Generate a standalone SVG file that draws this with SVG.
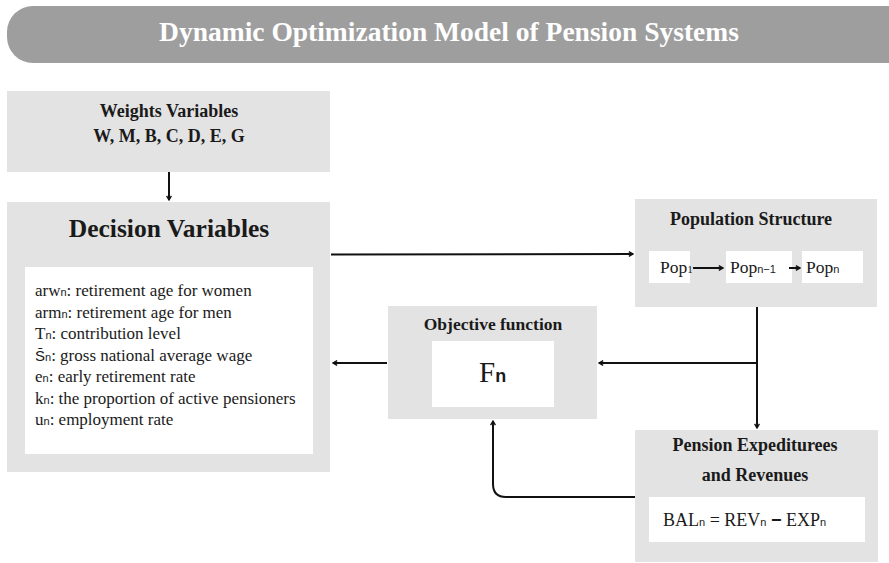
<svg xmlns="http://www.w3.org/2000/svg" width="889" height="563" viewBox="0 0 889 563">
<style>
.box{fill:#e3e3e3}
.inner{fill:#ffffff}
.hd{font-family:"Liberation Serif",serif;font-weight:bold;fill:#1a1a1a;text-anchor:middle}
.tx{font-family:"Liberation Serif",serif;fill:#1a1a1a}
.sub{font-family:"Liberation Sans",sans-serif;font-size:11px}
.ln{fill:none;stroke:#111;stroke-width:2}
</style>
<defs>
<marker id="ah" viewBox="0 0 10 10" refX="8" refY="5" markerWidth="6" markerHeight="6" markerUnits="userSpaceOnUse" orient="auto">
<path d="M1,1 L8,5 L1,9" fill="none" stroke="#111" stroke-width="2.2"/>
</marker>
</defs>
<rect width="889" height="563" fill="#ffffff"/>
<g id="title">
<rect x="7" y="6" width="907" height="57" rx="26" fill="#9e9e9e"/>
<text x="449" y="41" font-family="Liberation Serif,serif" font-weight="bold" font-size="27.5" fill="#ffffff" text-anchor="middle">Dynamic Optimization Model of Pension Systems</text>
</g>
<g id="weights">
<rect class="box" x="7" y="91" width="323" height="81"/>
<text class="hd" x="169" y="117" font-size="18">Weights Variables</text>
<text class="hd" x="169" y="142" font-size="18">W, M, B, C, D, E, G</text>
</g>
<g id="decision">
<rect class="box" x="7" y="202" width="323" height="270"/>
<text class="hd" x="169" y="237" font-size="25.5">Decision Variables</text>
<rect class="inner" x="25" y="267" width="288" height="187"/>
<g class="tx" font-size="17">
<text x="35" y="296">arw<tspan class="sub">n</tspan>: retirement age for women</text>
<text x="35" y="317.5">arm<tspan class="sub">n</tspan>: retirement age for men</text>
<text x="35" y="339">T<tspan class="sub">n</tspan>: contribution level</text>
<text x="35" y="360.5"><tspan font-family="Liberation Sans,sans-serif" font-size="15">S̄</tspan><tspan class="sub">n</tspan>: gross national average wage</text>
<text x="35" y="382">e<tspan class="sub">n</tspan>: early retirement rate</text>
<text x="35" y="403.5">k<tspan class="sub">n</tspan>: the proportion of active pensioners</text>
<text x="35" y="425">u<tspan class="sub">n</tspan>: employment rate</text>
</g>
</g>
<g id="population">
<rect class="box" x="635" y="199" width="242" height="108"/>
<text class="hd" x="751" y="225" font-size="18">Population Structure</text>
<rect class="inner" x="649" y="251" width="41" height="32"/>
<rect class="inner" x="726" y="251" width="66" height="32"/>
<rect class="inner" x="802" y="251" width="61" height="32"/>
<text class="tx" x="660" y="273" font-size="17.5">Pop<tspan font-size="11">1</tspan></text>
<text class="tx" x="730" y="273" font-size="17.5">Pop<tspan class="sub">n−1</tspan></text>
<text class="tx" x="806" y="273" font-size="17.5">Pop<tspan class="sub">n</tspan></text>
</g>
<g id="objective">
<rect class="box" x="388" y="306" width="209" height="113"/>
<text class="hd" x="493" y="330" font-size="17.5">Objective function</text>
<rect class="inner" x="432" y="341" width="122" height="66"/>
<text class="tx" x="479" y="382" font-size="29">F<tspan font-family="Liberation Sans,sans-serif" font-weight="bold" font-size="18">n</tspan></text>
</g>
<g id="pension">
<rect class="box" x="635" y="430" width="243" height="132"/>
<text class="hd" x="755" y="451" font-size="18">Pension Expediturees</text>
<text class="hd" x="755" y="481" font-size="18">and Revenues</text>
<rect class="inner" x="649" y="497" width="216" height="45"/>
<text class="tx" x="663" y="526" font-size="18">BAL<tspan class="sub">n</tspan> = REV<tspan class="sub">n</tspan> <tspan font-family="Liberation Sans,sans-serif" font-weight="bold">−</tspan> EXP<tspan class="sub">n</tspan></text>
</g>
<g id="connectors">
<line class="ln" x1="169" y1="172" x2="169" y2="200" marker-end="url(#ah)"/>
<line class="ln" x1="331" y1="254.5" x2="633" y2="254" marker-end="url(#ah)"/>
<line class="ln" x1="693" y1="268" x2="723" y2="268" marker-end="url(#ah)" stroke-width="1.8"/>
<line class="ln" x1="789" y1="268" x2="800" y2="268" marker-end="url(#ah)" stroke-width="1.8"/>
<line class="ln" x1="757" y1="307" x2="757" y2="428" marker-end="url(#ah)"/>
<line class="ln" x1="757" y1="363" x2="599" y2="363" marker-end="url(#ah)"/>
<line class="ln" x1="387" y1="363" x2="333" y2="363" marker-end="url(#ah)"/>
<path class="ln" d="M635,497 L506,497 Q493,497 493,484 L493,421" marker-end="url(#ah)"/>
</g>
</svg>
